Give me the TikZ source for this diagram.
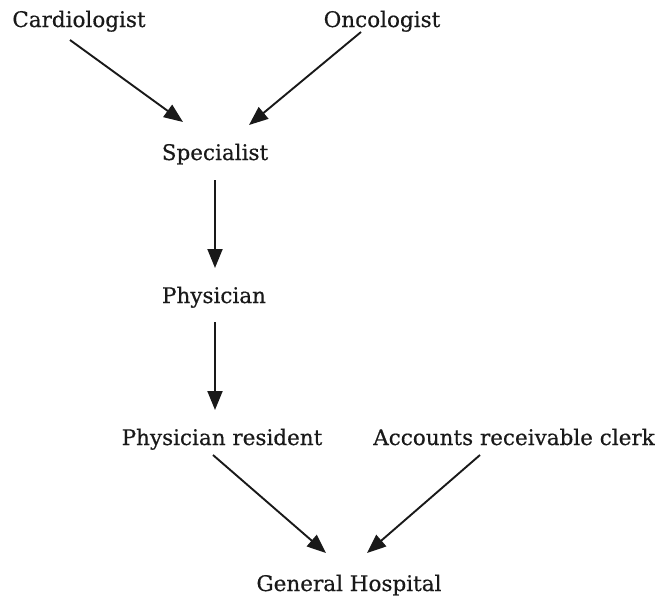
\documentclass[tikz,border=0pt]{standalone}
\usepackage{fontspec}
\setmainfont{DejaVu Serif}
\newfontfamily\rolefont{DejaVu Serif}[FakeBold=0.5]
\usetikzlibrary{arrows.meta}
\begin{document}
\begin{tikzpicture}[x=1pt,y=-1pt,
  role/.style={anchor=base,inner sep=0pt,font=\rolefont\fontsize{21.5}{24}\selectfont,text=black!90},
  link/.style={line width=1.9pt,draw=black!90,-{Triangle[length=19pt,width=15pt]}}]
  \useasboundingbox (0,0) rectangle (667,598);

  % roles
  \node[role] (card)   at (79,27)   {Cardiologist};
  \node[role] (onco)   at (382,27)  {Oncologist};
  \node[role] (spec)   at (215,160) {Specialist};
  \node[role] (phys)   at (214,303) {Physician};
  \node[role] (res)    at (222,445) {Physician resident};
  \node[role] (clerk)  at (514,445) {Accounts receivable clerk};
  \node[role] (hosp)   at (349,591) {General Hospital};

  % reporting lines
  \draw[link] ([shift={(-9,13)}]card.base)  -- ([shift={(-32,-38)}]spec.base);
  \draw[link] ([shift={(-21,5)}]onco.base)  -- ([shift={(34,-35)}]spec.base);
  \draw[link] ([shift={(0,20)}]spec.base)   -- ([shift={(1,-35)}]phys.base);
  \draw[link] ([shift={(1,19)}]phys.base)   -- ([shift={(-7,-35)}]res.base);
  \draw[link] ([shift={(-9,10)}]res.base)   -- ([shift={(-23,-38)}]hosp.base);
  \draw[link] ([shift={(-34,10)}]clerk.base) -- ([shift={(18,-38)}]hosp.base);
\end{tikzpicture}
\end{document}
